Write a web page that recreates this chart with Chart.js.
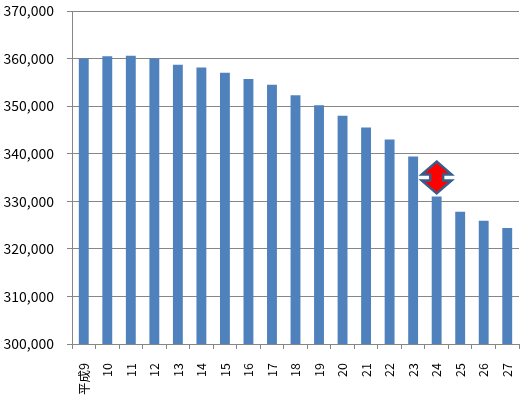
<!DOCTYPE html>
<html><head><meta charset="utf-8">
<style>html,body{margin:0;padding:0;background:#fff}canvas{display:block}</style>
<script src="https://cdn.jsdelivr.net/npm/chart.js@4"></script></head>
<body><canvas id="c" width="528" height="403" style="width:528px;height:403px"></canvas>
<script>
const categories = ["平成9","10","11","12","13","14","15","16","17","18","19","20","21","22","23","24","25","26","27"];
const values = [360000,360500,360600,360000,358700,358100,357000,355700,354500,352300,350200,348000,345500,343000,339400,331000,327800,325900,324400];
const yTicks = [300000,310000,320000,330000,340000,350000,360000,370000];
const arrowCategory = "24";
const arrowValue = 335000;

const arrowPlugin = {
  id:'arrow',
  afterDatasetsDraw(chart){
    const {ctx,scales:{x,y}} = chart;
    const cx = x.getPixelForValue(categories.indexOf(arrowCategory));
    const cy = y.getPixelForValue(arrowValue);
    ctx.save();
    ctx.translate(cx,cy);
    const pts = [[0,-16],[15,-3],[6.5,-3],[6.5,3],[15,3],[0,16],[-15,3],[-6.5,3],[-6.5,-3],[-15,-3]];
    ctx.beginPath();
    pts.forEach((p,i)=> i?ctx.lineTo(p[0],p[1]):ctx.moveTo(p[0],p[1]));
    ctx.closePath();
    ctx.fillStyle='#FF0000';
    ctx.strokeStyle='#385D8A';
    ctx.lineWidth=2.4;
    ctx.lineJoin='miter';
    ctx.fill();
    ctx.stroke();
    ctx.restore();
  }
};

function noPadding(s){s.paddingTop=0;s.paddingBottom=0;s.paddingLeft=0;s.paddingRight=0;}

new Chart(document.getElementById('c'),{
  type:'bar',
  data:{labels:categories,datasets:[{data:values,backgroundColor:'#4F81BD',categoryPercentage:1,barPercentage:0.42}]},
  options:{
    responsive:false,animation:false,devicePixelRatio:1,
    layout:{padding:{top:11,right:9,left:0,bottom:0}},
    plugins:{legend:{display:false},tooltip:{enabled:false}},
    scales:{
      x:{
        afterFit(s){s.height=59;noPadding(s);},
        grid:{drawOnChartArea:false,drawTicks:true,tickLength:5,color:'#868686',offset:true},
        border:{color:'#868686'},
        ticks:{minRotation:90,maxRotation:90,autoSkip:false,padding:14,color:'#000',font:{family:'"Noto Sans CJK JP"',size:12.5}}
      },
      y:{
        min:300000,max:370000,
        afterFit(s){s.width=72;noPadding(s);},
        afterBuildTicks(s){s.ticks=yTicks.map(v=>({value:v}));},
        grid:{color:'#868686',tickLength:5},
        border:{color:'#868686'},
        ticks:{padding:13,color:'#000',font:{family:'"Noto Sans CJK JP"',size:14},callback:v=>v.toLocaleString('en-US')}
      }
    }
  },
  plugins:[arrowPlugin]
});
</script></body></html>
